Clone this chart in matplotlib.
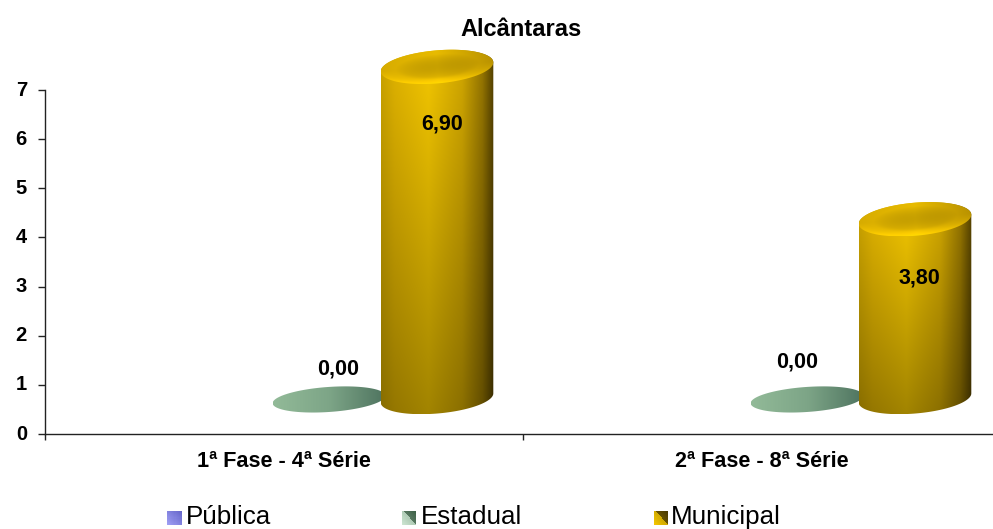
#!/usr/bin/env python3
# -*- coding: utf-8 -*-
"""
Alcantaras chart: 3D looking cylinders drawn on plain matplotlib axes.
"""
import numpy as np
import matplotlib
matplotlib.use("Agg")
import matplotlib.pyplot as plt
from matplotlib.patches import Polygon

plt.rcParams['font.family'] = ['Liberation Sans', 'DejaVu Sans']

title = "Alcântaras"
categories = ["1ª Fase - 4ª Série", "2ª Fase - 8ª Série"]
series_names = ["Pública", "Estadual", "Municipal"]
publica = [np.nan, np.nan]
estadual = [0.00, 0.00]
municipal = [6.90, 3.80]
yticks = [0, 1, 2, 3, 4, 5, 6, 7]

W, H = 993, 529
X0, X1, Y0, Y7 = 45, 993, 434, 90
SX = 478.0   # pixels per category
SY = (Y0 - Y7) / 7.0

fig = plt.figure(figsize=(W / 100, H / 100), dpi=100)
ax = fig.add_axes([X0 / W, 1 - Y0 / H, (X1 - X0) / W, (Y0 - Y7) / H])
ax.set_xlim(0, (X1 - X0) / SX)
ax.set_ylim(0, 7)

# 3D look: floor offset of the cylinder foot and of the top
BASE = 0.733
TOP_BASE = 0.57
A = 56.5
TILT = np.radians(5)
GOLD_X = [0, 0.12, 0.42, 0.72, 0.9, 1]
GOLD_C = [(205, 165, 0), (225, 180, 0), (245, 200, 0), (210, 168, 0), (150, 118, 0), (85, 66, 0)]
GREEN_X = [0, 0.5, 1]
GREEN_C = [(146, 186, 152), (125, 165, 135), (78, 115, 95)]


def ellipse(cx, cy, b, t, tilt=TILT):
    # cx and cy in data units, the shape itself in pixels
    x = A * np.cos(t) * np.cos(tilt) - b * np.sin(t) * np.sin(tilt)
    y = A * np.cos(t) * np.sin(tilt) + b * np.sin(t) * np.cos(tilt)
    return np.column_stack([cx + x / SX, cy + y / SY])


def ramp(xs, stops, colors):
    c = np.array(colors, dtype=float)
    return np.stack([np.interp(xs, stops, c[:, i]) for i in range(3)], axis=-1)


def show(arr, path, extent, z):
    patch = Polygon(path, closed=True, transform=ax.transData, fc='none', ec='none')
    ax.add_patch(patch)
    im = ax.imshow(arr / 255.0, extent=extent, aspect='auto', origin='lower',
                   zorder=z, interpolation='bilinear')
    im.set_clip_path(patch)
    im.set_clip_box(fig.bbox)
    return im


def cylinder(cx, value, z):
    b = 16.5
    cy0 = BASE
    cy1 = TOP_BASE + value
    t0 = np.arctan(-(b / A) * np.tan(TILT))
    low = ellipse(cx, cy0, 15.5, np.linspace(t0, t0 - np.pi, 80))
    up = ellipse(cx, cy1, b, np.linspace(t0 + np.pi, t0, 80))
    path = np.vstack([low, up])
    ext = [path[:, 0].min(), path[:, 0].max(), path[:, 1].min(), path[:, 1].max()]
    # side: horizontal gradient, darker towards the floor
    u = np.linspace(0, 1, 200)
    v = np.linspace(0, 1, 200)
    side = ramp(u, GOLD_X, GOLD_C)[None, :, :] * (0.66 + 0.34 * v)[:, None, None]
    show(side, path, ext, z)
    # top cap: dark hollow in the middle, bright rim at the front
    cap = ellipse(cx, cy1, b, np.linspace(0, 2 * np.pi, 160))
    ext = [cap[:, 0].min(), cap[:, 0].max(), cap[:, 1].min(), cap[:, 1].max()]
    xx, yy = np.meshgrid(np.linspace(-1, 1, 160), np.linspace(-1, 1, 80))
    px = xx * (ext[1] - ext[0]) * SX / 2
    py = yy * (ext[3] - ext[2]) * SY / 2
    pu = (px * np.cos(TILT) + py * np.sin(TILT)) / A
    pv = (-px * np.sin(TILT) + py * np.cos(TILT)) / b
    r = np.sqrt(pu ** 2 + pv ** 2)
    rgb = ramp((pu + 1) / 2, [0, 0.5, 1], [(215, 172, 0), (232, 187, 0), (185, 146, 0)])
    hollow = 0.86 + 0.14 * np.clip(r / 0.75, 0, 1) ** 2
    rim = np.clip((r - 0.6) / 0.4, 0, 1) * np.clip(-pv * 1.3, 0, 1)
    rgb = rgb * hollow[..., None] + rim[..., None] * np.array([35, 30, 0])
    show(np.clip(rgb, 0, 255), cap, ext, z + 0.1)


def flat(cx, z):
    b = 12.5
    tilt = np.radians(4)
    cap = ellipse(cx, BASE - 0.03, b, np.linspace(0, 2 * np.pi, 160), tilt)
    ext = [cap[:, 0].min(), cap[:, 0].max(), cap[:, 1].min(), cap[:, 1].max()]
    arr = ramp(np.linspace(0, 1, 200), GREEN_X, GREEN_C)[None, :, :]
    show(arr, cap, ext, z)


# series centres, in category units from the category middle
offsets = [-64 / SX, 45 / SX, 153 / SX]
# label shift from the mark, in pixels
label_px = {1: [(9, 29), (-10, 36)], 2: [(5.5, -57), (4.5, -59)]}

for i in range(len(categories)):
    mid = i + 0.5
    if not np.isnan(publica[i]):
        flat(mid + offsets[0], 2)
    flat(mid + offsets[1], 3)
    cylinder(mid + offsets[2], municipal[i], 4)
    ax.annotate(f"{estadual[i]:.2f}".replace(".", ","),
                xy=(mid + offsets[1], BASE + estadual[i]),
                xytext=(label_px[1][i][0] * 0.72, label_px[1][i][1] * 0.72),
                textcoords='offset points', ha='center', va='center',
                fontsize=15.5, fontweight='bold', zorder=6, annotation_clip=False)
    ax.annotate(f"{municipal[i]:.2f}".replace(".", ","),
                xy=(mid + offsets[2], TOP_BASE + municipal[i]),
                xytext=(label_px[2][i][0] * 0.72, label_px[2][i][1] * 0.72),
                textcoords='offset points', ha='center', va='center',
                fontsize=15.5, fontweight='bold', zorder=6, annotation_clip=False)

ax.set_xlim(0, (X1 - X0) / SX)
ax.set_ylim(0, 7)
ax.spines['top'].set_visible(False)
ax.spines['right'].set_visible(False)
for s in ['left', 'bottom']:
    ax.spines[s].set_linewidth(1.0)
    ax.spines[s].set_color('#222222')
ax.set_yticks(yticks)
ax.set_yticklabels([str(v) for v in yticks], fontsize=14.5, fontweight='bold')
ax.set_xticks([0, 1])
ax.set_xticklabels([])
ax.tick_params(axis='both', length=4, width=1, color='#222222', direction='out', pad=8)
ax.tick_params(axis='y', length=5)
for lab in ax.get_yticklabels():
    lab.set_verticalalignment('center')
for i, c in enumerate(categories):
    ax.text(i + 0.5, -0.56, c, ha='center', va='center', fontsize=15.6, fontweight='bold')

fig.text(521 / W, 1 - 29 / H, title, ha='center', va='center', fontsize=17, fontweight='bold')

# legend keys: small bevelled squares
key_x = [167, 402, 654]
text_x = [186, 421, 671]
key_light = [(160, 160, 245), (205, 230, 210), (245, 200, 0)]
key_dark = [(100, 100, 200), (60, 95, 70), (70, 55, 0)]
for k in range(3):
    kax = fig.add_axes([key_x[k] / W, 1 - 525 / H, 14 / W, 14 / H])
    xx, yy = np.meshgrid(np.linspace(0, 1, 14), np.linspace(0, 1, 14))
    f = np.clip((xx + (1 - yy)) / 2, 0, 1)
    if k == 0:
        w = f
    else:
        w = (xx > yy).astype(float) * 0.6 + 0.4 * f
    arr = np.array(key_light[k]) * (1 - w[..., None]) + np.array(key_dark[k]) * w[..., None]
    kax.imshow(arr / 255.0, aspect='auto', interpolation='nearest')
    kax.axis('off')
    fig.text(text_x[k] / W, 1 - 517 / H, series_names[k], ha='left', va='center', fontsize=18.7)

fig.savefig("out.png", dpi=100)
